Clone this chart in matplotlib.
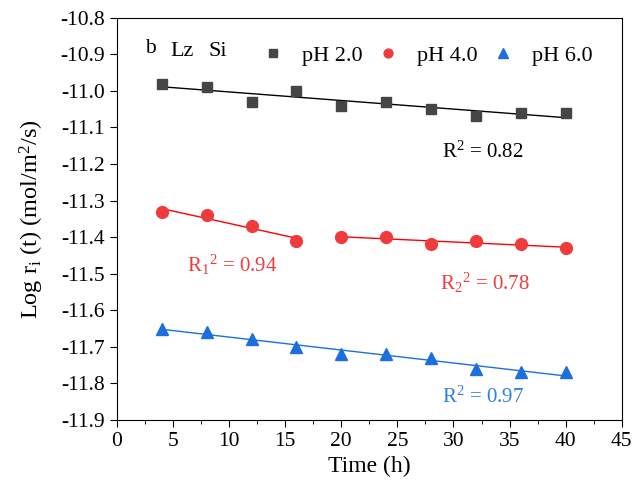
import numpy as np
import matplotlib
matplotlib.use('Agg')
from matplotlib import pyplot as plt
from matplotlib.ticker import MultipleLocator, FormatStrFormatter

plt.rcParams['font.family'] = 'Liberation Serif'
plt.rcParams['mathtext.fontset'] = 'custom'
plt.rcParams['mathtext.rm'] = 'Liberation Serif'
plt.rcParams['mathtext.it'] = 'Liberation Serif:italic'

time_h = [4, 8, 12, 16, 20, 24, 28, 32, 36, 40]
ph2 = [-10.98, -10.99, -11.03, -11.00, -11.04, -11.03, -11.05, -11.07, -11.06, -11.06]
ph4 = [-11.33, -11.34, -11.37, -11.41, -11.40, -11.40, -11.42, -11.41, -11.42, -11.43]
ph6 = [-11.65, -11.66, -11.68, -11.70, -11.72, -11.72, -11.73, -11.76, -11.77, -11.77]

black = '#454545'
red = '#ef3b3b'
blue = '#1c6fdc'


def fit_line(ax, x, y, color):
    k, b = np.polyfit(x, y, 1)
    xs = np.array([x[0], x[-1]])
    ax.plot(xs, k * xs + b, '-', color=color, lw=1.0, zorder=2)


fig = plt.figure(figsize=(6.39, 4.94), dpi=100)
ax = fig.add_axes([0.183, 0.150, 0.790, 0.814])

fit_line(ax, time_h, ph2, 'black')
fit_line(ax, time_h[:4], ph4[:4], 'red')
fit_line(ax, time_h[4:], ph4[4:], 'red')
fit_line(ax, time_h, ph6, blue)

ax.plot(time_h, ph2, 's', color=black, ms=7, ls='none', label='pH 2.0', zorder=3)
ax.plot(time_h, ph4, 'o', color=red, ms=8.5, ls='none', label='pH 4.0', zorder=3)
ax.plot(time_h, ph6, '^', color=blue, ms=9, ls='none', label='pH 6.0', zorder=3)

ax.text(32.6, -11.167, r'R$^2$ = 0.82', color='black', fontsize=15, ha='center', va='center')
ax.text(10.3, -11.476, r'R$_1$$^2$ = 0.94', color=red, fontsize=15, ha='center', va='center')
ax.text(32.8, -11.525, r'R$_2$$^2$ = 0.78', color=red, fontsize=15, ha='center', va='center')
ax.text(32.6, -11.837, r'R$^2$ = 0.97', color='#2f7fe6', fontsize=15, ha='center', va='center')

ax.text(2.5, -10.896, 'b', fontsize=15.5, ha='left', va='baseline')
ax.text(4.72, -10.904, 'Lz', fontsize=16, ha='left', va='baseline')
ax.text(8.2, -10.904, 'Si', fontsize=16, ha='left', va='baseline')

ax.legend(loc='center left', bbox_to_anchor=(0.282, 0.905), ncol=3, frameon=False,
          fontsize=16, markerscale=0.75, handlelength=1.2, handletextpad=0.7,
          columnspacing=0.55, borderaxespad=0, borderpad=0)

ax.set_xlim(0, 45)
ax.set_ylim(-11.9, -10.8)
ax.xaxis.set_major_locator(MultipleLocator(5))
ax.xaxis.set_minor_locator(MultipleLocator(2.5))
ax.yaxis.set_major_locator(MultipleLocator(0.1))
ax.yaxis.set_major_formatter(FormatStrFormatter('%.1f'))
ax.tick_params(axis='both', which='major', direction='out', length=5, labelsize=15.5)
ax.tick_params(axis='x', which='minor', direction='out', length=3)
ax.tick_params(top=False, right=False)

ax.set_xlabel('Time (h)', fontsize=17)
ax.set_ylabel(r'Log r$_\mathrm{i}$ (t) (mol/m$^2$/s)', fontsize=17.5, labelpad=10)

plt.savefig('out.png', dpi=100)
plt.close()
